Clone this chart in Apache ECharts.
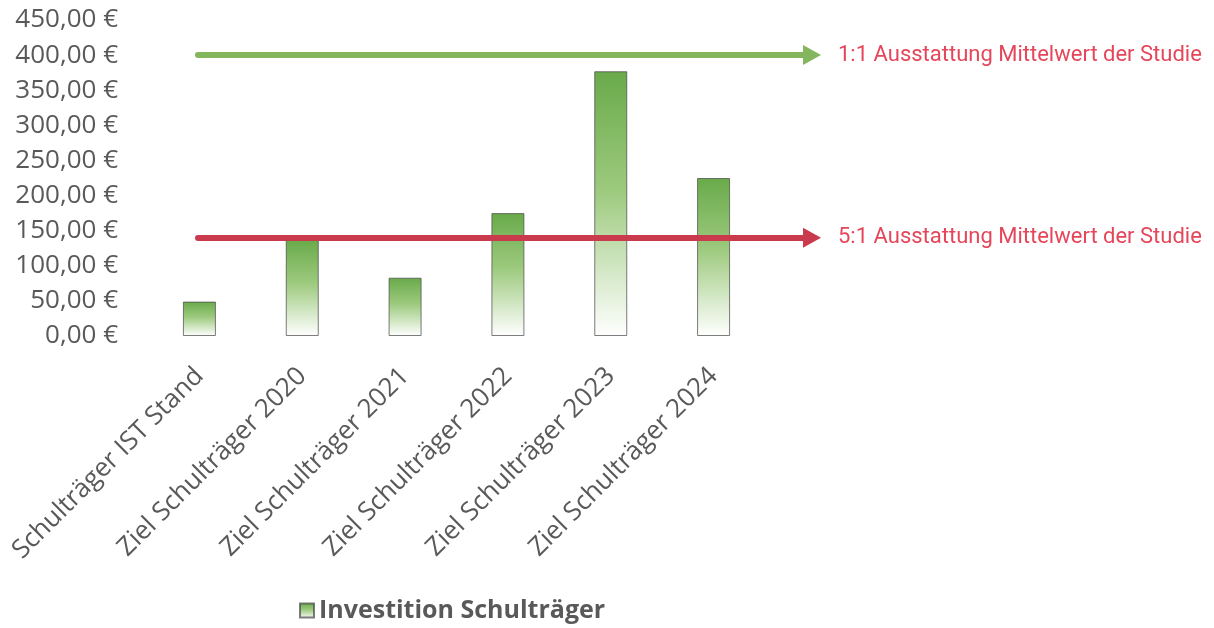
<!DOCTYPE html>
<html>
<head>
<meta charset="utf-8">
<script src="https://cdn.jsdelivr.net/npm/echarts@6/dist/echarts.min.js"></script>
<style>
  html, body { margin: 0; padding: 0; background: #fff; }
  #chart { width: 1214px; height: 628px; }
</style>
</head>
<body>
<div id="chart"></div>
<script>
const categories = [
  "Schulträger IST Stand",
  "Ziel Schulträger 2020",
  "Ziel Schulträger 2021",
  "Ziel Schulträger 2022",
  "Ziel Schulträger 2023",
  "Ziel Schulträger 2024",
]
const investment = [49, 137, 83, 175, 377, 225]
const refValues = [400, 140]
const refLabels = ["1:1 Ausstattung Mittelwert der Studie", "5:1 Ausstattung Mittelwert der Studie"]
const refColors = ["#84b65e", "#c93a4c"]

const chart = echarts.init(document.getElementById("chart"))

const barFill = new echarts.graphic.LinearGradient(0, 0, 0, 1, [
  { offset: 0, color: "#69aa4a" },
  { offset: 0.45, color: "#9dca7e" },
  { offset: 1, color: "#ffffff" },
])

const option = {
  animation: false,
  textStyle: { fontFamily: "'Open Sans', Lato, sans-serif" },
  grid: { left: 148, right: 449, top: 20, bottom: 292 },
  legend: {
    left: 294,
    bottom: 0,
    itemWidth: 14,
    itemHeight: 14,
    itemGap: 6,
    icon: "rect",
    textStyle: { fontSize: 25, fontWeight: "bold", color: "#595959" },
    data: ["Investition Schulträger"],
  },
  xAxis: {
    type: "category",
    data: categories,
    axisLine: { show: false },
    axisTick: { show: false },
    axisLabel: {
      interval: 0,
      rotate: 45,
      margin: 36,
      fontSize: 26,
      color: "#595959",
    },
  },
  yAxis: {
    type: "value",
    min: 0,
    max: 450,
    interval: 50,
    splitLine: { show: false },
    axisLine: { show: false },
    axisTick: { show: false },
    axisLabel: {
      fontSize: 26,
      color: "#595959",
      margin: 30,
      formatter: (v) => v.toFixed(2).replace(".", ",") + " €",
    },
  },
  series: [
    {
      name: "Investition Schulträger",
      type: "bar",
      data: investment,
      barWidth: 33,
      itemStyle: {
        color: barFill,
        borderColor: "rgba(70, 70, 70, 0.7)",
        borderWidth: 1,
      },
      markLine: {
        silent: true,
        symbol: ["none", "triangle"],
        symbolSize: [20, 18],
        data: refValues.map((v, i) => [
          {
            x: 198,
            yAxis: v,
            lineStyle: { color: refColors[i], width: 6, type: "solid", cap: "round" },
            label: {
              show: true,
              position: "end",
              distance: 26,
              padding: [8, 0, 0, 0],
              formatter: refLabels[i],
              color: "#e5465a",
              fontSize: 22,
              fontFamily: "Roboto, sans-serif",
            },
          },
          { x: 812, yAxis: v },
        ]),
      },
    },
  ],
}

chart.setOption(option)
</script>
</body>
</html>
